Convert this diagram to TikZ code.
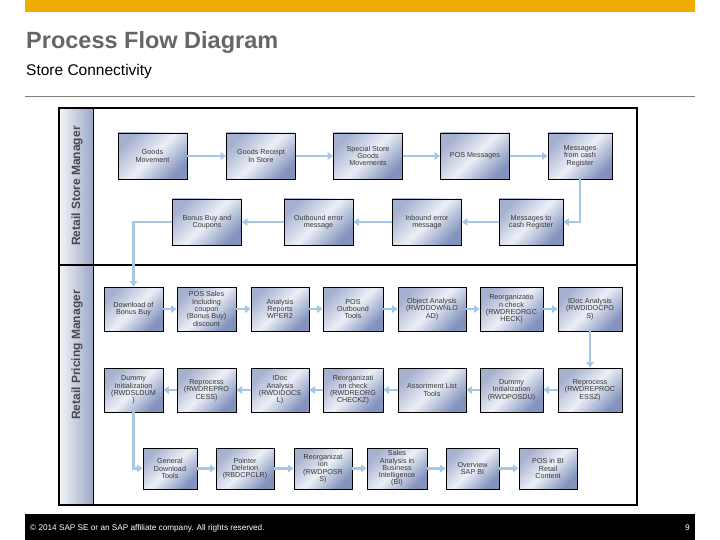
\documentclass[tikz,border=0pt]{standalone}
\usepackage{fontspec}
\setmainfont{Liberation Sans}
\usetikzlibrary{arrows.meta}
\definecolor{sapgold}{HTML}{F0AB00}
\definecolor{titlegray}{HTML}{666666}
\definecolor{rulegray}{HTML}{808080}
\definecolor{lanegray}{HTML}{4A4A4A}
\definecolor{boxtl}{HTML}{A5B1CF}
\definecolor{boxmid}{HTML}{ECEFF6}
\definecolor{boxbr}{HTML}{8393BE}
\definecolor{boxtext}{HTML}{383838}
\definecolor{flowblue}{HTML}{A6C8E8}
\definecolor{headl}{HTML}{F4F5F9}
\definecolor{headr}{HTML}{9AA7C6}
\begin{document}
\begin{tikzpicture}[x=1pt,y=-1pt,
  box/.style={draw=black, line width=0.8pt, top color=boxtl, bottom color=boxbr, middle color=boxmid, shading angle=45, align=center, inner sep=0pt, font=\fontsize{7.2}{7.3}\selectfont, text=boxtext},
  sbox/.style={box, minimum width=69pt, minimum height=46pt},
  pbox/.style={box, minimum width=59pt, minimum height=44pt},
  bbox/.style={box, minimum width=58pt, minimum height=41pt},
  flow/.style={draw=flowblue, line width=2.2pt, -{Triangle[width=7.5pt,length=5.5pt]}},
  thinflow/.style={flow, line width=1.3pt},
  lanelabel/.style={rotate=90, font=\bfseries\fontsize{12}{12}\selectfont, text=lanegray, inner sep=0pt}
]
\useasboundingbox (0,0) rectangle (720,540);
\fill[white] (0,0) rectangle (720,540);
% header bar, title, rule
\fill[sapgold] (25,0) rectangle (695,12);
\node[anchor=base west, inner sep=0pt, text=titlegray, font=\bfseries\fontsize{23.5}{24}\selectfont] (title) at (26,49) {Process Flow Diagram};
\node[anchor=base west, inner sep=0pt, text=black, font=\fontsize{15.5}{16}\selectfont] (sub) at (26,76) {Store Connectivity};
\draw[rulegray, line width=1pt] (25,97) -- (695,97);
% swimlane frame
\shade[left color=headl, right color=headr] (59,108) rectangle (93,505);
\draw[line width=0.8pt] (93,108) -- (93,505);
\draw[line width=2pt] (59,265) -- (637,265);
\draw[line width=2pt] (59,108) rectangle (637,505);
\node[lanelabel] (lane1) at (77,186) {Retail Store Manager};
\node[lanelabel] (lane2) at (77,355) {Retail Pricing Manager};
% store manager lane
\node[sbox] (gm) at (152.5,156) {Goods\\Movement};
\node[sbox] (gr) at (261,156) {Goods Receipt\\In Store};
\node[sbox] (ss) at (368,156) {Special Store\\Goods\\Movements};
\node[sbox] (pm) at (475,156) {POS Messages};
\node[sbox, minimum width=64pt] (mc) at (580,156) {Messages\\from cash\\Register};
\node[sbox] (bb) at (207,222) {Bonus Buy and\\Coupons};
\node[sbox] (oe) at (318.5,222) {Outbound error\\message};
\node[sbox] (ie) at (427,222) {Inbound error\\message};
\node[sbox, minimum width=64pt] (mt) at (531,222) {Messages to\\cash Register};
% pricing manager lane, row 1
\node[pbox] (db) at (133.5,309) {Download of\\Bonus Buy};
\node[pbox] (ps) at (206.5,309) {POS Sales\\Including\\coupon\\(Bonus Buy)\\discount};
\node[pbox, minimum width=58pt] (ar) at (280,309) {Analysis\\Reports\\WPER2};
\node[pbox, minimum width=60pt] (po) at (353,309) {POS\\Outbound\\Tools};
\node[pbox, minimum width=68pt] (oa) at (432,309) {Object Analysis\\(RWDDOWNLO\\AD)};
\node[pbox, minimum width=63pt] (rc) at (511.5,309) {Reorganizatio\\n check\\(RWDREORGC\\HECK)};
\node[pbox, minimum width=64pt] (ia) at (590,309) {IDoc Analysis\\(RWDIDOCPO\\S)};
% row 2
\node[pbox] (di) at (133.5,390) {Dummy\\Initialization\\(RWDSLDUM\\)};
\node[pbox] (rp) at (206.5,390) {Reprocess\\(RWDREPRO\\CESS)};
\node[pbox, minimum width=58pt] (id) at (280,390) {IDoc\\Analysis\\(RWDIDOCS\\L)};
\node[pbox, minimum width=60pt] (rz) at (353,390) {Reorganizati\\on check\\(RWDREORG\\CHECKZ)};
\node[pbox, minimum width=68pt] (al) at (432,390) {Assortment List\\Tools};
\node[pbox, minimum width=63pt] (du) at (511.5,390) {Dummy\\Initialization\\(RWDPOSDU)};
\node[pbox, minimum width=64pt] (rq) at (590,390) {Reprocess\\(RWDREPROC\\ESSZ)};
% row 3
\node[bbox, minimum width=54pt] (gd) at (170,468.5) {General\\Download\\Tools};
\node[bbox] (pd) at (245,468.5) {Pointer\\Deletion\\(RBDCPCLR)};
\node[bbox] (ro) at (323,468.5) {Reorganizat\\ion\\(RWDPOSR\\S)};
\node[bbox, minimum width=60pt] (sa) at (397,468.5) {Sales\\Analysis in\\Business\\Intelligence\\(BI)};
\node[bbox, minimum width=53pt] (ov) at (472.5,468.5) {Overview\\SAP BI};
\node[bbox] (pb) at (548,468.5) {POS in BI\\Retail\\Content};
% connectors
\draw[flow] (gm) -- (gr);
\draw[flow] (gr) -- (ss);
\draw[flow] (ss) -- (pm);
\draw[flow] (pm) -- (mc);
\draw[thinflow] (mc.south) |- (mt.east);
\draw[flow] (mt) -- (ie);
\draw[flow] (ie) -- (oe);
\draw[flow] (oe) -- (bb);
\draw[flow] (bb.west) -| (db.north);
\draw[flow] (db) -- (ps);
\draw[flow] (ps) -- (ar);
\draw[flow] (ar) -- (po);
\draw[flow] (po) -- (oa);
\draw[flow] (oa) -- (rc);
\draw[flow] (rc) -- (ia);
\draw[flow] (ia) -- (rq);
\draw[flow] (rq) -- (du);
\draw[flow] (du) -- (al);
\draw[flow] (al) -- (rz);
\draw[flow] (rz) -- (id);
\draw[flow] (id) -- (rp);
\draw[flow] (rp) -- (di);
\draw[flow] (di.south) |- (gd.west);
\draw[flow] (gd) -- (pd);
\draw[flow] (pd) -- (ro);
\draw[flow] (ro) -- (sa);
\draw[flow] (sa) -- (ov);
\draw[flow] (ov) -- (pb);
% footer
\fill[black] (25,514) rectangle (695,540);
\node[anchor=base west, inner sep=0pt, text=white, font=\fontsize{8.2}{9}\selectfont] (copy) at (30,530) {© 2014 SAP SE or an SAP affiliate company. All rights reserved.};
\node[anchor=base east, inner sep=0pt, text=white, font=\fontsize{8.2}{9}\selectfont] (page) at (690,530) {9};
\end{tikzpicture}
\end{document}
